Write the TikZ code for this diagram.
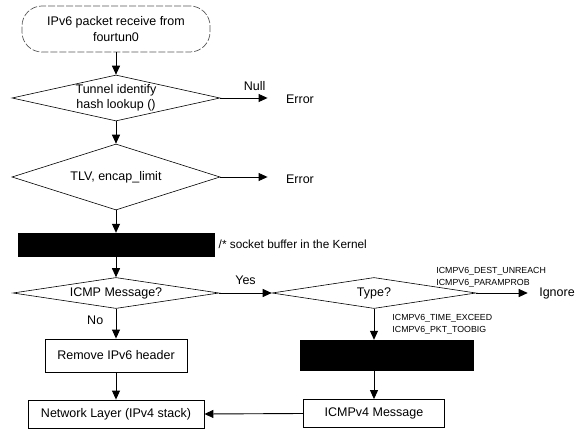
\documentclass[tikz,border=0pt]{standalone}
\usepackage{fontspec}
\setmainfont{Liberation Sans}
\usetikzlibrary{shapes.geometric}
\usetikzlibrary{arrows.meta}
\usetikzlibrary{positioning}

\begin{document}
\begin{tikzpicture}[x=1pt,y=-1pt,
	every node/.style={font=\fontsize{12.5}{15.5}\selectfont},
	flow/.style={draw,line width=0.9pt,-{Triangle[length=9pt,width=8pt]}},
	decide/.style={draw,diamond,line width=0.6pt,inner sep=-4pt},
	procbox/.style={draw,line width=0.8pt,inner sep=0pt},
	blackbox/.style={draw,fill=black,inner sep=0pt},
	tiny/.style={font=\fontsize{8.8}{12.5}\selectfont,align=left,inner sep=1pt}]
	\useasboundingbox (0,0) rectangle (579,430);
	% left column
	\node[draw=black!65,line width=0.7pt,dash pattern=on 7pt off 2pt,rounded corners=20pt,
		minimum width=188,minimum height=46,align=center] (start) at (116,29) {IPv6 packet receive from\\fourtun0};
	\node[decide,aspect=4.5,minimum width=208,minimum height=46,align=center] (lookup) at (116,98) {Tunnel identify\\hash lookup ()};
	\node[decide,aspect=3.15,minimum width=208,minimum height=66] (tlv) at (116,177) {TLV, encap\_limit};
	\node[blackbox,minimum width=196,minimum height=23] (skb) at (116,244.5) {};
	\node[right=1pt of skb,font=\fontsize{11.8}{14}\selectfont] (skbnote) {/* socket buffer in the Kernel};
	\node[decide,aspect=6.6,minimum width=206,minimum height=31] (icmp) at (116,293) {ICMP Message?};
	\node[procbox,minimum width=142,minimum height=33] (strip) at (116,355.5) {Remove IPv6 header};
	\node[procbox,minimum width=176,minimum height=28] (net) at (116,414) {Network Layer (IPv4 stack)};
	% right column
	\node (err1) at (300,99) {Error};
	\node (err2) at (300,179) {Error};
	\node[decide,aspect=6.6,minimum width=204,minimum height=31] (type) at (374,293) {Type?};
	\node (ign) at (557,293) {Ignore};
	\node[blackbox,minimum width=173,minimum height=30] (conv) at (386.5,355) {};
	\node[procbox,minimum width=141,minimum height=28] (icmp4) at (374,413.5) {ICMPv4 Message};
	% arrows
	\draw[flow] (start) -- (lookup);
	\draw[flow] (lookup) -- (tlv);
	\draw[flow] (tlv) -- (skb);
	\draw[flow] (skb) -- (icmp);
	\draw[flow] (icmp) --node[left=9pt,pos=0.4]{No} (strip);
	\draw[flow] (strip) -- (net);
	\draw[flow,shorten >=15pt] (lookup.east) --node[above=4pt,pos=0.55]{Null} (lookup.east -| err1.west);
	\draw[flow,shorten >=15pt] (tlv.east) -- (tlv.east -| err2.west);
	\draw[flow] (icmp.east) --node[above=5pt]{Yes} (type.west);
	\draw[flow,shorten >=8pt] (type.east) --node[tiny,above=4pt,pos=0.25]{ICMPV6\_DEST\_UNREACH\\ICMPV6\_PARAMPROB} (ign.west);
	\draw[flow] (type.south) --node[tiny,right=17pt]{ICMPV6\_TIME\_EXCEED\\ICMPV6\_PKT\_TOOBIG} (type.south |- conv.north);
	\draw[flow] (type.south |- conv.south) -- (icmp4.north);
	\draw[flow] (icmp4.west) -- (net.east);
\end{tikzpicture}
\end{document}
